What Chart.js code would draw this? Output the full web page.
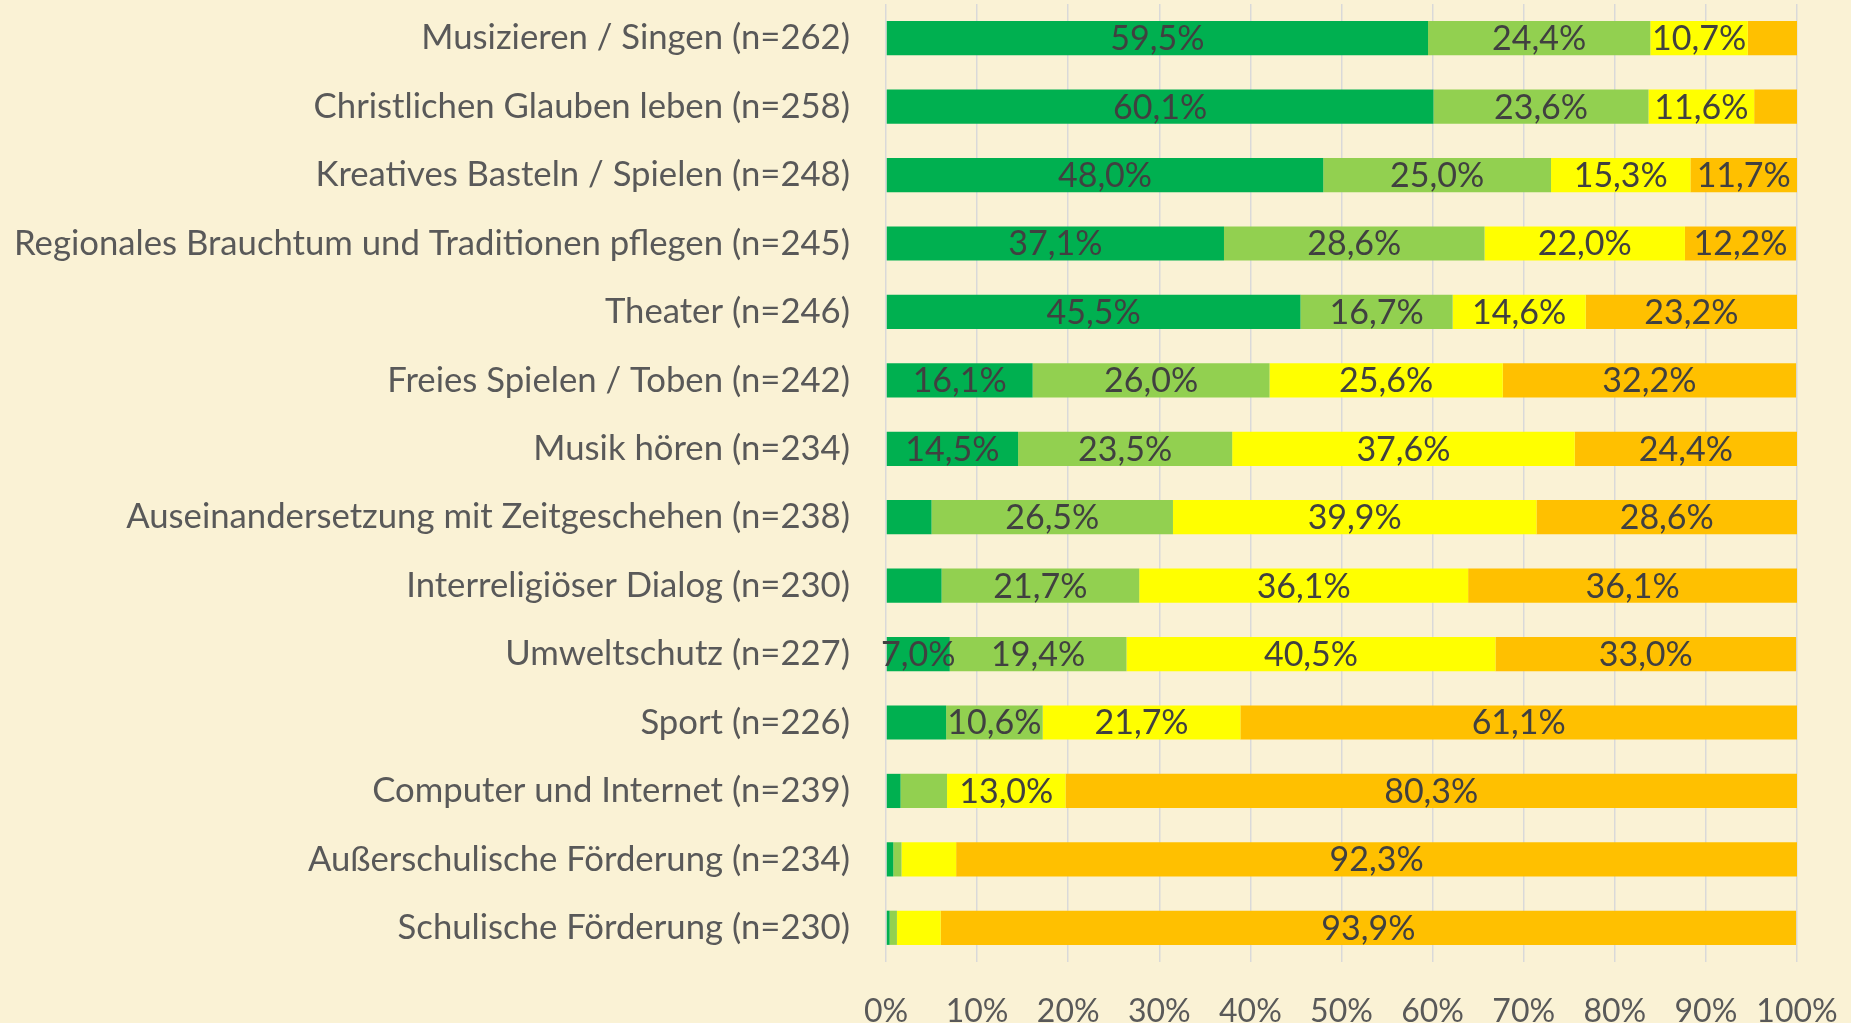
<!DOCTYPE html>
<html lang="de">
<head>
  <meta charset="UTF-8">
  <title>Angebote – Stacked Bar</title>
  <script src="https://cdn.jsdelivr.net/npm/chart.js"></script>
  <style>
    html, body { margin: 0; padding: 0; background: #faf2d5; }
    canvas { display: block; }
  </style>
</head>
<body>
  <canvas id="chart" width="1851" height="1023"></canvas>

  <script>
// categories (top to bottom)
const categories = [
  'Musizieren / Singen (n=262)',
  'Christlichen Glauben leben (n=258)',
  'Kreatives Basteln / Spielen (n=248)',
  'Regionales Brauchtum und Traditionen pflegen (n=245)',
  'Theater (n=246)',
  'Freies Spielen / Toben (n=242)',
  'Musik hören (n=234)',
  'Auseinandersetzung mit Zeitgeschehen (n=238)',
  'Interreligiöser Dialog (n=230)',
  'Umweltschutz (n=227)',
  'Sport (n=226)',
  'Computer und Internet (n=239)',
  'Außerschulische Förderung (n=234)',
  'Schulische Förderung (n=230)'
];

// series values in percent
const darkGreen  = [59.5, 60.1, 48.0, 37.1, 45.5, 16.1, 14.5, 5.0, 6.1, 7.0, 6.6, 1.6, 0.8, 0.4];
const lightGreen = [24.4, 23.6, 25.0, 28.6, 16.7, 26.0, 23.5, 26.5, 21.7, 19.4, 10.6, 5.1, 0.9, 0.8];
const yellow     = [10.7, 11.6, 15.3, 22.0, 14.6, 25.6, 37.6, 39.9, 36.1, 40.5, 21.7, 13.0, 6.0, 4.8];
const orange     = [5.4, 4.7, 11.7, 12.2, 23.2, 32.2, 24.4, 28.6, 36.1, 33.0, 61.1, 80.3, 92.3, 93.9];

// x axis ticks
const xTicks = [0, 10, 20, 30, 40, 50, 60, 70, 80, 90, 100];

const FONT = 'Lato';
const fmt = v => v.toFixed(1).replace('.', ',') + '%';

// background fill
const bgPlugin = {
  id: 'bg',
  beforeDraw(chart) {
    const ctx = chart.ctx;
    ctx.save();
    ctx.fillStyle = '#faf2d5';
    ctx.fillRect(0, 0, chart.width, chart.height);
    ctx.restore();
  }
};

// value labels in the middle of each segment (small ones are left out)
const labelPlugin = {
  id: 'valueLabels',
  afterDatasetsDraw(chart) {
    const ctx = chart.ctx;
    ctx.save();
    ctx.font = '34px ' + FONT;
    ctx.fillStyle = '#404040';
    ctx.textAlign = 'center';
    ctx.textBaseline = 'middle';
    chart.data.datasets.forEach((ds, i) => {
      const meta = chart.getDatasetMeta(i);
      meta.data.forEach((bar, j) => {
        const v = ds.data[j];
        if (v < 7) return;
        ctx.fillText(fmt(v), (bar.x + bar.base) / 2, bar.y + 1);
      });
    });
    ctx.restore();
  }
};

new Chart(document.getElementById('chart'), {
  type: 'bar',
  data: {
    labels: categories,
    datasets: [
      { label: 'sehr wichtig', data: darkGreen, backgroundColor: '#00b050' },
      { label: 'eher wichtig', data: lightGreen, backgroundColor: '#92d050' },
      { label: 'eher unwichtig', data: yellow, backgroundColor: '#ffff00' },
      { label: 'unwichtig', data: orange, backgroundColor: '#ffc000' }
    ]
  },
  options: {
    indexAxis: 'y',
    responsive: false,
    animation: false,
    datasets: {
      bar: { categoryPercentage: 1, barPercentage: 0.5, borderWidth: 0 }
    },
    layout: { padding: { top: 4, right: 54, bottom: 0, left: 0 } },
    plugins: {
      legend: { display: false },
      tooltip: { enabled: false }
    },
    scales: {
      x: {
        stacked: true,
        min: 0,
        max: 100,
        afterBuildTicks(scale) {
          scale.ticks = xTicks.map(v => ({ value: v }));
        },
        afterFit(scale) {
          scale.height = 61;
          scale.paddingLeft = 0;
          scale.paddingRight = 0;
        },
        grid: { color: '#d9d9d9', lineWidth: 1.5, drawTicks: false },
        border: { display: false },
        ticks: {
          padding: 30,
          color: '#595959',
          font: { family: FONT, size: 32 },
          callback: v => v + '%'
        }
      },
      y: {
        stacked: true,
        afterFit(scale) {
          scale.width = 886;
          scale.paddingTop = 0;
          scale.paddingBottom = 0;
        },
        grid: { display: false, drawTicks: false },
        border: { display: false },
        ticks: {
          padding: 36,
          color: '#595959',
          font: { family: FONT, size: 34.7 }
        }
      }
    }
  },
  plugins: [bgPlugin, labelPlugin]
});
  </script>
</body>
</html>
